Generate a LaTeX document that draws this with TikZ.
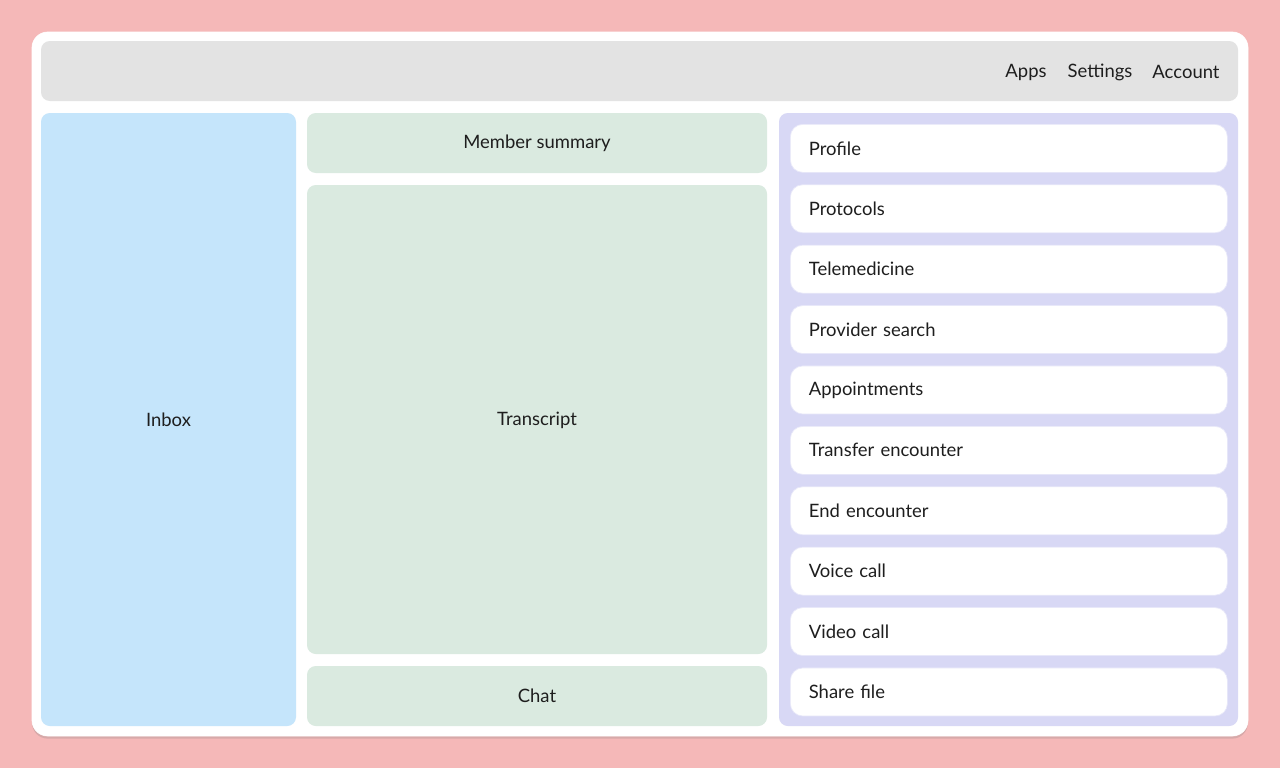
\documentclass[tikz,border=0pt]{standalone}
\usepackage{fontspec}
\setmainfont{Lato}
\usetikzlibrary{positioning, shadows}
\definecolor{bgpink}{HTML}{F5B8B8}
\definecolor{barg}{HTML}{E3E3E3}
\definecolor{inboxb}{HTML}{C5E5FB}
\definecolor{midg}{HTML}{DAEAE0}
\definecolor{sidel}{HTML}{D8D8F5}
\definecolor{txt}{HTML}{1E1E1E}

\begin{document}
\begin{tikzpicture}[x=0.02cm, y=-0.02cm,
                font=\fontsize{10.5}{12}\selectfont, text=txt]
            \tikzstyle{pane}=[rounded corners=5pt, draw=none]
            \tikzstyle{item}=[pane, rounded corners=7pt, fill=white, draw=sidel!60!white, minimum width=437*0.02cm, minimum height=48*0.02cm, anchor=north west, text width=400*0.02cm, align=left]
            \fill[bgpink] (0,0) rectangle (1280,768);
            \useasboundingbox (0,0) rectangle (1280,768);
            \filldraw[white, rounded corners=9pt, drop shadow={opacity=0.25, shadow xshift=0pt, shadow yshift=-1.5pt}] (32,32) rectangle (1248,736);
            \fill[pane, barg] (41,41) rectangle (1238,101);
            \node (apps) at (1026,72) {Apps};
            \node (settings) at (1100,72) {Settings};
            \node (account) at (1186,72) {Account};
            \fill[pane, inboxb] (41,113) rectangle (296,726);
            \node (inbox) at (168.5,420) {Inbox};
            \fill[pane, midg] (307,113) rectangle (767,173);
            \node (summary) at (537,143) {Member summary};
            \fill[pane, midg] (307,185) rectangle (767,654);
            \node (transcript) at (537,420) {Transcript};
            \fill[pane, midg] (307,666) rectangle (767,726);
            \node (chat) at (537,696) {Chat};
            \fill[pane, sidel] (779,113) rectangle (1238,726);
            \foreach \lbl [count=\i from 0] in {Profile, Protocols, Telemedicine, Provider search, Appointments, Transfer encounter, End encounter, Voice call, Video call, Share file}
                \node[item] (tool\i) at (790,{124+60.4*\i}) {\lbl};
        \end{tikzpicture}
\end{document}
